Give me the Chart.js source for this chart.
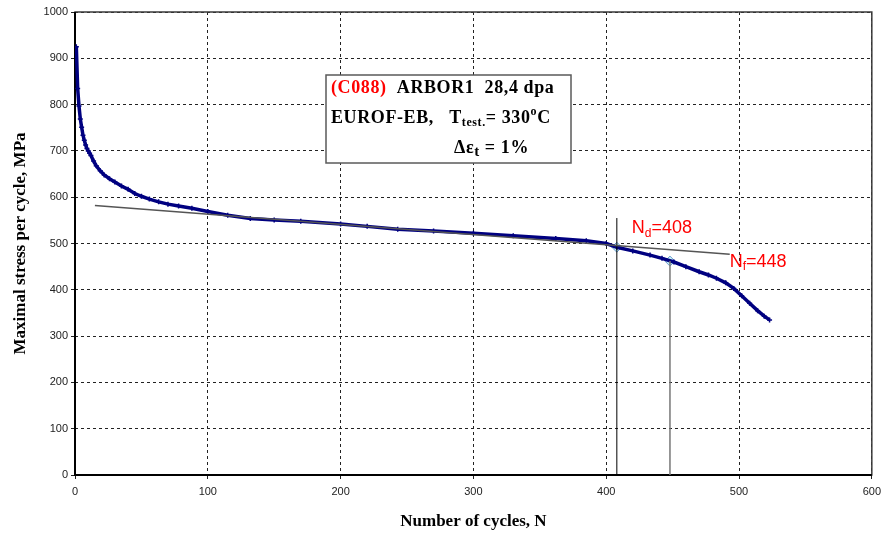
<!DOCTYPE html>
<html>
<head>
<meta charset="utf-8">
<script src="https://cdn.jsdelivr.net/npm/chart.js@4.4.1/dist/chart.umd.min.js"></script>
<style>
  html, body { margin: 0; padding: 0; background: #fff; }
  #wrap { width: 887px; height: 539px; position: relative; }
</style>
</head>
<body>
<div id="wrap"><canvas id="c" width="887" height="539"></canvas></div>
<script>
// Cycle-by-cycle maximal stress (MPa)
const cycles = [1, 2, 3, 4, 5, 6, 7, 8, 9, 10, 11, 12, 14, 16, 19, 22, 26, 30, 35, 40, 45, 50, 56, 63, 70, 78, 88, 100, 115, 132, 150, 170, 200, 220, 243, 270, 300, 330, 362, 385, 400, 408, 420, 433, 442, 451, 460, 470, 477, 483, 490, 496, 502, 508, 514, 519, 523];
const stress = [925, 835, 797, 769, 751, 734, 723, 713, 705, 700, 695, 690, 678, 668, 657, 648, 640, 633, 624, 617, 608, 602, 596, 590, 585, 581, 576, 569, 561, 554, 551, 548, 542, 537, 531, 527, 522, 517, 511, 506, 500, 492, 484, 475, 468, 460, 450, 439, 432, 425, 415, 403, 387, 371, 355, 343, 335];

// Linear fit of the stabilised softening stage
const tangentN = [15, 493];
const tangentStress = [582, 477];

// N_d (crack initiation) and N_f (failure) markers
const markerN = [408, 448];
const markerStress = [492, 462];
const markerLineTop = [555, 462];

const xTicks = [0, 100, 200, 300, 400, 500, 600];
const yTicks = [0, 100, 200, 300, 400, 500, 600, 700, 800, 900, 1000];

const pts = (xs, ys) => xs.map((x, i) => ({ x: x, y: ys[i] }));

function drawRuns(ctx, x, y, runs, spacing) {
  let cx = x;
  ctx.letterSpacing = spacing || '0px';
  runs.forEach(r => {
    ctx.font = r.font;
    ctx.fillStyle = r.color || '#000';
    ctx.textBaseline = 'middle';
    ctx.textAlign = 'left';
    ctx.fillText(r.t, cx, y + (r.dy || 0));
    cx += ctx.measureText(r.t).width;
  });
  ctx.letterSpacing = '0px';
}

const overlay = {
  id: 'overlay',
  beforeDatasetsDraw(chart) {
    const { ctx, chartArea: a } = chart;
    ctx.save();
    // plot frame
    ctx.strokeStyle = '#3a3a3a';
    ctx.lineWidth = 1.5;
    ctx.strokeRect(a.left, a.top, a.right - a.left, a.bottom - a.top);
    // axis lines
    ctx.strokeStyle = '#000';
    ctx.lineWidth = 2;
    ctx.beginPath();
    ctx.moveTo(a.left, a.top);
    ctx.lineTo(a.left, a.bottom);
    ctx.lineTo(a.right, a.bottom);
    ctx.stroke();
    ctx.restore();
  },
  afterDatasetsDraw(chart) {
    const { ctx, chartArea: a, scales } = chart;
    const xs = scales.x, ys = scales.y;
    ctx.save();
    // info box
    const bx = a.left + 251, by = a.top + 63, bw = 245, bh = 88;
    ctx.fillStyle = '#fff';
    ctx.fillRect(bx, by, bw, bh);
    ctx.strokeStyle = '#5a5a5a';
    ctx.lineWidth = 1.5;
    ctx.strokeRect(bx, by, bw, bh);
    const big = 'bold 18px "Liberation Serif", "Times New Roman", serif';
    const sml = 'bold 12px "Liberation Serif", "Times New Roman", serif';
    const sub = 'bold 15px "Liberation Serif", "Times New Roman", serif';
    drawRuns(ctx, bx + 5, by + 13, [
      { t: '(C088)', font: big, color: '#ff0000' },
      { t: '  ARBOR1  28,4 dpa', font: big }
    ], '0.6px');
    drawRuns(ctx, bx + 5, by + 43, [
      { t: 'EUROF-EB,   T', font: big },
      { t: 'test.', font: sml, dy: 5 },
      { t: '= 330', font: big },
      { t: 'o', font: sml, dy: -6 },
      { t: 'C', font: big }
    ], '0.6px');
    drawRuns(ctx, bx + 128, by + 73, [
      { t: '\u0394\u03b5', font: big },
      { t: 't', font: sub, dy: 4 },
      { t: ' = 1%', font: big }
    ], '0.6px');
    // N_d / N_f labels
    const lf = '18px "Liberation Sans", Arial, sans-serif';
    const lfs = '12px "Liberation Sans", Arial, sans-serif';
    drawRuns(ctx, xs.getPixelForValue(markerN[0]) + 15, ys.getPixelForValue(markerStress[0]) - 19, [
      { t: 'N', font: lf, color: '#ff0000' },
      { t: 'd', font: lfs, color: '#ff0000', dy: 5 },
      { t: '=408', font: lf, color: '#ff0000' }
    ]);
    drawRuns(ctx, xs.getPixelForValue(tangentN[1]) + 0, ys.getPixelForValue(tangentStress[1]) + 8, [
      { t: 'N', font: lf, color: '#ff0000' },
      { t: 'f', font: lfs, color: '#ff0000', dy: 5 },
      { t: '=448', font: lf, color: '#ff0000' }
    ]);
    ctx.restore();
  }
};

const tickFont = { family: '"Liberation Sans", Arial, sans-serif', size: 11 };
const titleFont = { family: '"Liberation Serif", "Times New Roman", serif', size: 17, weight: 'bold' };

new Chart(document.getElementById('c'), {
  type: 'scatter',
  data: {
    datasets: [
      {
        data: pts(tangentN, tangentStress),
        showLine: true, borderColor: '#555', borderWidth: 1.5,
        pointRadius: 0
      },
      {
        data: pts([markerN[0], markerN[0]], [0, markerLineTop[0]]),
        showLine: true, borderColor: '#000', borderWidth: 1,
        pointRadius: 0
      },
      {
        data: pts([markerN[1], markerN[1]], [0, markerLineTop[1]]),
        showLine: true, borderColor: '#777', borderWidth: 1.5,
        pointRadius: 0
      },
      {
        data: pts(cycles, stress),
        showLine: true, borderColor: '#000080', borderWidth: 3.5,
        pointStyle: 'cross', pointRadius: 2.5, pointBorderWidth: 1.5,
        pointBorderColor: '#000080', pointBackgroundColor: '#000080'
      },
      {
        data: pts(markerN, markerStress),
        showLine: false, pointStyle: 'rectRot', pointRadius: 5,
        pointBackgroundColor: '#c8f4f4', pointBorderColor: '#6a9ad0', pointBorderWidth: 1
      }
    ]
  },
  options: {
    responsive: false,
    animation: false,
    events: [],
    layout: { padding: { left: 0, right: 15, top: 12, bottom: 0 } },
    plugins: { legend: { display: false }, tooltip: { enabled: false } },
    scales: {
      x: {
        type: 'linear', min: 0, max: 600,
        afterBuildTicks: s => { s.ticks = xTicks.map(v => ({ value: v })); },
        afterFit: s => { s.height = 64; },
        grid: { color: '#222', lineWidth: 1, tickLength: 4, drawTicks: true },
        border: { display: false, dash: [3, 3] },
        ticks: { padding: 6, color: '#222', font: tickFont, callback: v => String(v) },
        title: {
          display: true, text: 'Number of cycles, N', color: '#000',
          font: titleFont, padding: { top: 0, bottom: 7 }
        }
      },
      y: {
        type: 'linear', min: 0, max: 1000,
        afterBuildTicks: s => { s.ticks = yTicks.map(v => ({ value: v })); },
        afterFit: s => { s.width = 75; },
        grid: { color: '#222', lineWidth: 1, tickLength: 4, drawTicks: true },
        border: { display: false, dash: [3, 3] },
        ticks: { padding: 3, color: '#222', font: tickFont, callback: v => String(v) },
        title: {
          display: true, text: 'Maximal stress per cycle, MPa', color: '#000',
          font: titleFont, padding: { top: 10, bottom: 0 }
        }
      }
    }
  },
  plugins: [overlay]
});
</script>
</body>
</html>
